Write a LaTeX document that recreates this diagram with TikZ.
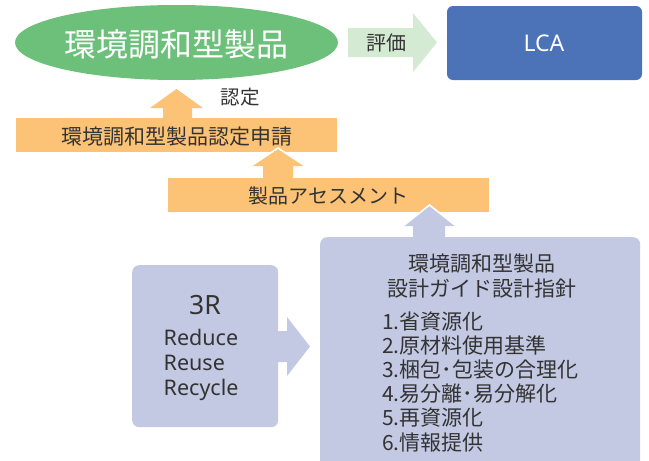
\documentclass[tikz,border=0pt]{standalone}
\usepackage{fontspec}
\setmainfont{Noto Sans CJK JP}
\newfontfamily\latinfont{Noto Sans}
\usetikzlibrary{shapes.geometric}
\definecolor{ellgreen}{HTML}{6CC07A}
\definecolor{lightgreen}{HTML}{D4EAD3}
\definecolor{lcablue}{HTML}{4C72B8}
\definecolor{barorange}{HTML}{FCC376}
\definecolor{lavender}{HTML}{C3C9E3}
\definecolor{txt}{HTML}{333333}
\newcommand{\fs}[1]{\fontsize{#1}{#1}\selectfont}
\begin{document}
\begin{tikzpicture}[x=1pt,y=-1pt,
  lbl/.style={inner sep=0pt, text=txt},
  bar/.style={fill=barorange, draw=none},
  upar/.style={fill=barorange, draw=none},
  headline/.style={draw=white, line width=1.6pt, line join=miter}]
\clip (0,0) rectangle (649,461);
\fill[white] (0,0) rectangle (649,461);

% top ellipse
\node[ellipse, fill=ellgreen, minimum width=323pt, minimum height=75pt, inner sep=0pt] (eco) at (176.5,42.5) {};
\node[inner sep=0pt, text=white] (ecot) at (176.5,44.5) {\fs{32}環境調和型製品};

% LCA box
\node[fill=lcablue, rounded corners=6pt, minimum width=195pt, minimum height=74pt, inner sep=0pt] (lca) at (544.5,43) {};
\node[inner sep=0pt, text=white] (lcat) at (544,43.5) {\latinfont\fs{23}LCA};

% evaluation arrow
\fill[lightgreen] (348,28) -- (413,28) -- (413,13) -- (437,42.5) -- (413,72) -- (413,57) -- (348,57) -- cycle;
\node[lbl] (hyoka) at (386.5,43) {\fs{20}評価};

% bars
\node[bar, minimum width=321pt, minimum height=34pt, inner sep=0pt] (bar1) at (176.5,135) {};
\node[lbl] (bar1t) at (177,136.5) {\fs{21}環境調和型製品認定申請};
\node[bar, minimum width=321pt, minimum height=34pt, inner sep=0pt] (bar2) at (328.5,195) {};
\node[lbl] (bar2t) at (328.5,196) {\fs{20}製品アセスメント};

% arrow 1 : bar1 -> ellipse
\fill[barorange] (163,118) -- (163,108) -- (150,108) -- (176.5,89) -- (203,108) -- (192,108) -- (192,118) -- cycle;
\node[lbl] (nintei) at (240,97) {\fs{19.5}認定};

% lavender boxes
\node[fill=lavender, rounded corners=7pt, minimum width=320pt, minimum height=240pt, inner sep=0pt, anchor=north west] (guide) at (320,237) {};
\node[fill=lavender, rounded corners=7pt, minimum width=146pt, minimum height=162pt, inner sep=0pt, anchor=north west] (threer) at (132,265) {};

% arrow 2 : bar2 -> bar1
\fill[barorange] (263,178) -- (263,166) -- (251,166) -- (278,148) -- (305,166) -- (293,166) -- (293,178) -- cycle;
\draw[headline] (251,166) -- (278,148) -- (305,166);
% arrow 3 : guide -> bar2
\fill[lavender] (413,237.5) -- (413,226) -- (403,226) -- (429.5,205) -- (456,226) -- (445,226) -- (445,237.5) -- cycle;
\draw[headline] (403,226) -- (429.5,205) -- (456,226);
% arrow 4 : 3R -> guide
\fill[lavender] (277.5,331) -- (287,331) -- (287,317) -- (310,346.5) -- (287,376) -- (287,362) -- (277.5,362) -- cycle;

% 3R text
\node[lbl, anchor=base] (t3r) at (205,314) {\latinfont\fs{26.5}3R};
\node[lbl, anchor=base west] (tred) at (163.5,345) {\latinfont\fs{21.5}Reduce};
\node[lbl, anchor=base west] (treu) at (163.5,370) {\latinfont\fs{21.5}Reuse};
\node[lbl, anchor=base west] (trec) at (163.5,395) {\latinfont\fs{21.5}Recycle};

% guide text
\node[lbl, anchor=base] (g1) at (482,271) {\fs{21}環境調和型製品};
\node[lbl, anchor=base] (g2) at (482,296) {\fs{21}設計ガイド設計指針};
\node[lbl, anchor=base west] (l1) at (382,329.5) {\fs{21}1.省資源化};
\node[lbl, anchor=base west] (l2) at (382,353.6) {\fs{21}2.原材料使用基準};
\node[lbl, anchor=base west] (l3) at (382,377.7) {\fs{21}3.梱包･包装の合理化};
\node[lbl, anchor=base west] (l4) at (382,401.8) {\fs{21}4.易分離･易分解化};
\node[lbl, anchor=base west] (l5) at (382,425.9) {\fs{21}5.再資源化};
\node[lbl, anchor=base west] (l6) at (382,450) {\fs{21}6.情報提供};
\end{tikzpicture}
\end{document}
